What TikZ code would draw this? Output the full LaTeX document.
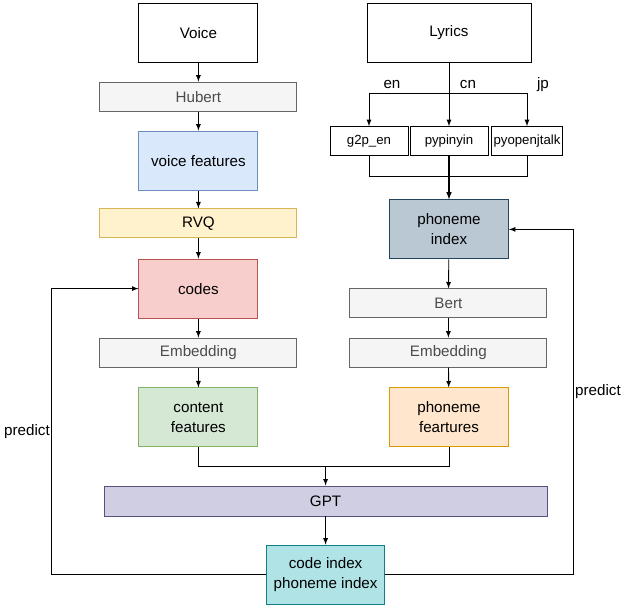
\documentclass[tikz,border=0pt]{standalone}
\usepackage{fontspec}
\setmainfont{Liberation Sans}
\usepackage{tikz}
\usetikzlibrary{calc, positioning}

\definecolor{grayfill}{HTML}{F5F5F5}
\definecolor{grayline}{HTML}{666666}
\definecolor{bluefill}{HTML}{DAE8FC}
\definecolor{blueline}{HTML}{6C8EBF}
\definecolor{yellowfill}{HTML}{FFF2CC}
\definecolor{yellowline}{HTML}{D6B656}
\definecolor{redfill}{HTML}{F8CECC}
\definecolor{redline}{HTML}{B85450}
\definecolor{greenfill}{HTML}{D5E8D4}
\definecolor{greenline}{HTML}{82B366}
\definecolor{purplefill}{HTML}{D0CEE2}
\definecolor{purpleline}{HTML}{56517E}
\definecolor{tealfill}{HTML}{B0E3E6}
\definecolor{tealline}{HTML}{0E8088}
\definecolor{slatefill}{HTML}{BAC8D3}
\definecolor{slateline}{HTML}{23445D}
\definecolor{orangefill}{HTML}{FFE6CC}
\definecolor{orangeline}{HTML}{D79B00}

\tikzset{
  box/.style={draw, rectangle, minimum width=2.975cm, minimum height=1.475cm,
    align=center, font=\fontsize{10.8}{14}\selectfont, inner sep=1pt},
  bar/.style={draw=grayline, fill=grayfill, rectangle, minimum width=4.925cm,
    minimum height=0.725cm, font=\fontsize{10.8}{14}\selectfont, text=black!70, inner sep=1pt},
  tool/.style={draw, rectangle, minimum height=0.72cm, inner sep=1pt,
    font=\fontsize{9.4}{11}\selectfont},
  lab/.style={font=\fontsize{10.8}{13}\selectfont},
}

\begin{document}
\begin{tikzpicture}[>=latex, semithick]
  \useasboundingbox (0,0) rectangle (15.575,15.225);
  % left column
  \node (voice) at (4.96,14.41) [box] {Voice};
  \node (hubert) at (4.96,12.81) [bar] {Hubert};
  \node (vfeat) at (4.96,11.21) [box, draw=blueline, fill=bluefill] {voice features};
  \node (rvq) at (4.96,9.64) [bar, draw=yellowline, fill=yellowfill, text=black] {RVQ};
  \node (codes) at (4.96,8.01) [box, draw=redline, fill=redfill] {codes};
  \node (embl) at (4.96,6.41) [bar] {Embedding};
  \node (cfeat) at (4.96,4.79) [box, draw=greenline, fill=greenfill] {content\\features};
  % right column
  \node (lyrics) at (11.225,14.41) [box, minimum width=4.1cm] {Lyrics};
  \node (g2p) at (9.225,11.7) [tool, minimum width=1.95cm] {g2p\_en};
  \node (pinyin) at (11.225,11.7) [tool, minimum width=1.95cm] {pypinyin};
  \node (openjtalk) at (13.175,11.7) [tool, minimum width=1.78cm] {pyopenjtalk};
  \node (phidx) at (11.225,9.49) [box, draw=slateline, fill=slatefill] {phoneme\\index};
  \node (bert) at (11.21,7.64) [bar] {Bert};
  \node (embr) at (11.21,6.41) [bar] {Embedding};
  \node (pfeat) at (11.225,4.79) [box, draw=orangeline, fill=orangefill] {phoneme\\feartures};
  % bottom
  \node (gpt) at (8.14,2.7) [box, draw=purpleline, fill=purplefill, minimum width=11.075cm, minimum height=0.75cm] {GPT};
  \node (out) at (8.14,0.86) [box, draw=tealline, fill=tealfill, minimum width=2.95cm] {code index\\phoneme index};

  \coordinate (split) at (11.225,12.9);
  \coordinate (join) at (11.225,10.825);
  \coordinate (merge) at (8.14,3.575);
  \coordinate (lback) at (1.275,0.86);
  \coordinate (rback) at (14.325,0.86);

  \draw [->] (voice) -- (hubert);
  \draw [->] (hubert) -- (vfeat);
  \draw [->] (vfeat) -- (rvq);
  \draw [->] (rvq) -- (codes);
  \draw [->] (codes) -- (embl);
  \draw [->] (embl) -- (cfeat);

  \draw (lyrics) -- (split);
  \draw [->] (split) -| (g2p);
  \draw [->] (split) -- (pinyin);
  \draw [->] (split) -| (openjtalk);
  \draw (g2p) |- (join);
  \draw (openjtalk) |- (join);
  \draw [->, thick] (pinyin) -- (phidx);
  \draw [->] (phidx) -- (bert);
  \draw [->] (bert) -- (embr);
  \draw [->] (embr) -- (pfeat);

  \draw (cfeat) |- (merge);
  \draw (pfeat) |- (merge);
  \draw [->] (merge) -- (gpt);
  \draw [->] (gpt) -- (out);

  \draw [->] (out) -- (lback) |- (codes);
  \draw [->] (out) -- (rback) |- (phidx);

  \node (en) at (9.8,13.1) [lab] {en};
  \node (cn) at (11.7,13.1) [lab] {cn};
  \node (jp) at (13.575,13.1) [lab] {jp};
  \node (predl) at (0.675,4.425) [lab] {predict};
  \node (predr) at (14.95,5.425) [lab] {predict};
\end{tikzpicture}
\end{document}
